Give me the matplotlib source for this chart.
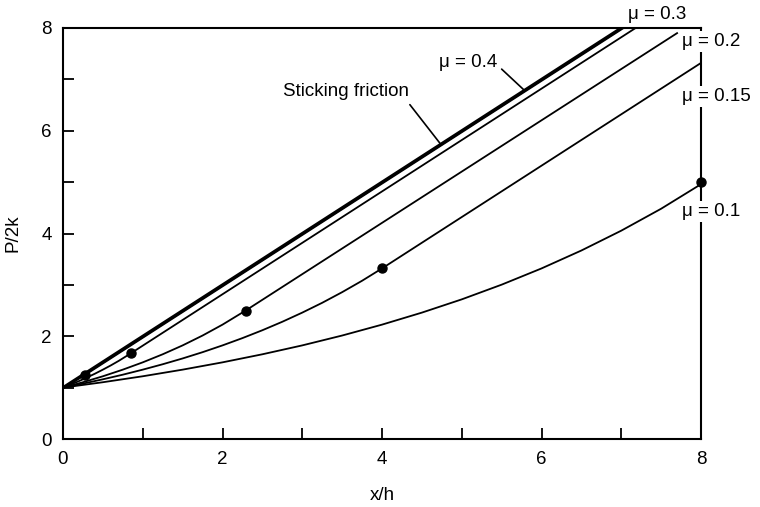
import matplotlib
matplotlib.use("Agg")
import matplotlib.pyplot as plt

plt.rcParams['font.family'] = ['Liberation Sans', 'DejaVu Sans']

# Curves: P/2k versus x/h
stick_x = [0.0, 7.0]
stick_y = [1.0, 8.0]

mu04_x = [0.0, 0.07, 0.14, 0.21, 0.28, 7.03]
mu04_y = [1.0, 1.058, 1.118, 1.183, 1.25, 8.0]

mu03_x = [0.0, 0.1, 0.2, 0.3, 0.4, 0.5, 0.6, 0.7, 0.85, 7.18]
mu03_y = [1.0, 1.062, 1.127, 1.197, 1.271, 1.35, 1.433, 1.522, 1.667, 8.0]

mu02_x = [0.0, 0.25, 0.5, 0.75, 1.0, 1.25, 1.5, 1.75, 2.0, 2.29, 7.7]
mu02_y = [1.0, 1.105, 1.221, 1.35, 1.492, 1.649, 1.822, 2.014, 2.226, 2.5, 7.9]

mu015_x = [0.0, 0.25, 0.5, 0.75, 1.0, 1.25, 1.5, 1.75, 2.0, 2.25, 2.5,
           2.75, 3.0, 3.25, 3.5, 3.75, 4.0, 8.0]
mu015_y = [1.0, 1.078, 1.162, 1.252, 1.35, 1.455, 1.568, 1.69, 1.822, 1.964,
           2.117, 2.282, 2.46, 2.651, 2.858, 3.08, 3.32, 7.32]

mu01_x = [0.0, 0.5, 1.0, 1.5, 2.0, 2.5, 3.0, 3.5, 4.0, 4.5, 5.0, 5.5, 6.0,
          6.5, 7.0, 7.5, 8.0]
mu01_y = [1.0, 1.105, 1.221, 1.35, 1.492, 1.649, 1.822, 2.014, 2.226, 2.46,
          2.718, 3.004, 3.32, 3.669, 4.055, 4.482, 4.96]

# transition points (dots)
dot_x = [0.28, 0.85, 2.29, 4.0, 8.0]
dot_y = [1.25, 1.67, 2.5, 3.33, 5.0]

x_ticks = [0, 1, 2, 3, 4, 5, 6, 7, 8]
x_labels = ['0', '', '2', '', '4', '', '6', '', '8']
y_ticks = [0, 1, 2, 3, 4, 5, 6, 7, 8]
y_labels = ['0', '', '2', '', '4', '', '6', '', '8']

FS = 13.5

fig = plt.figure(figsize=(7.6, 5.07), dpi=100)
ax = fig.add_axes([63/760, 1-439/507, (701-63)/760, (439-28)/507])

ax.plot(stick_x, stick_y, color='black', lw=2.2, solid_capstyle='butt')
for xs, ys in [(mu04_x, mu04_y), (mu03_x, mu03_y), (mu02_x, mu02_y),
               (mu015_x, mu015_y), (mu01_x, mu01_y)]:
    ax.plot(xs, ys, color='black', lw=1.3)
ax.plot(dot_x, dot_y, 'o', color='black', ms=6.5, clip_on=False, zorder=6)

ax.set_xlim(0, 8)
ax.set_ylim(0, 8)
ax.set_xticks(x_ticks)
ax.set_xticklabels(x_labels)
ax.set_yticks(y_ticks)
ax.set_yticklabels(y_labels)
ax.tick_params(direction='in', length=8, width=1.3, labelsize=FS, colors='black')
ax.tick_params(axis='x', pad=9)
ax.tick_params(axis='y', pad=8)
for s in ax.spines.values():
    s.set_linewidth(1.5)

ax.set_xlabel('x/h', fontsize=FS, labelpad=13)
ax.set_ylabel('P/2k', fontsize=FS, labelpad=14)

tb = dict(facecolor='white', edgecolor='none', pad=1.5)
ax.text(7.08, 8.27, 'μ = 0.3', fontsize=FS, ha='left', va='center', clip_on=False)
ax.text(7.76, 7.73, 'μ = 0.2', fontsize=FS, ha='left', va='center', clip_on=False,
        bbox=tb, zorder=5)
ax.text(7.76, 6.66, 'μ = 0.15', fontsize=FS, ha='left', va='center', clip_on=False,
        bbox=tb, zorder=5)
ax.text(7.76, 4.42, 'μ = 0.1', fontsize=FS, ha='left', va='center', clip_on=False,
        bbox=tb, zorder=5)

ax.annotate('μ = 0.4', xy=(5.79, 6.78), xytext=(5.44, 7.32), fontsize=FS,
            ha='right', va='center',
            arrowprops=dict(arrowstyle='-', color='black', lw=1.2,
                            relpos=(1.0, 0.4), shrinkA=2, shrinkB=0))
ax.annotate('Sticking friction', xy=(4.73, 5.75), xytext=(2.76, 6.77), fontsize=FS,
            ha='left', va='center',
            arrowprops=dict(arrowstyle='-', color='black', lw=1.2,
                            relpos=(0.97, 0.05), shrinkA=2, shrinkB=0))

fig.savefig('out.png', dpi=100)
